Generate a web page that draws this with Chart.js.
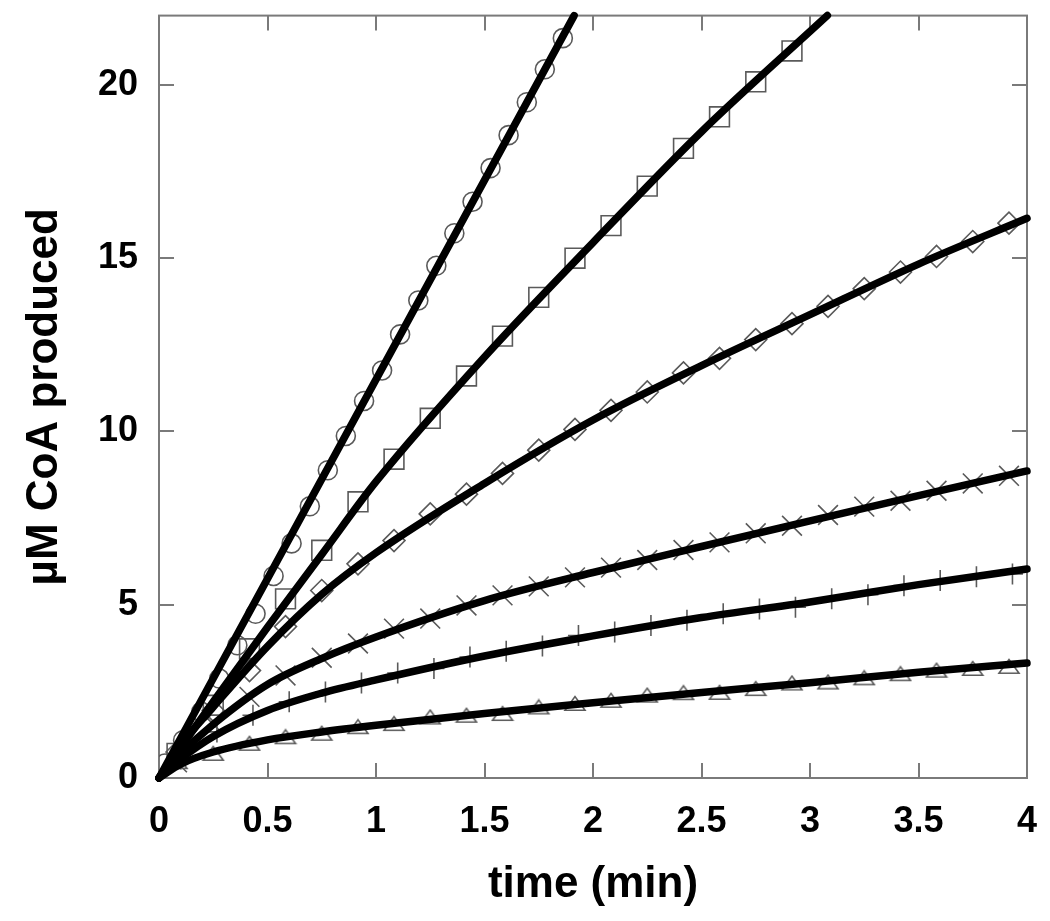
<!DOCTYPE html>
<html><head><meta charset="utf-8">
<script src="https://cdn.jsdelivr.net/npm/chart.js@4.4.1/dist/chart.umd.min.js"></script>
<style>html,body{margin:0;padding:0;background:#fff;}canvas{display:block;}</style>
</head><body>
<canvas id="c" width="1050" height="921"></canvas>
<script>
// ---- tick labels ----
const xTickValues = [0, 0.5, 1, 1.5, 2, 2.5, 3, 3.5, 4];
const yTickValues = [0, 5, 10, 15, 20];
const xTitle = 'time (min)';
const yTitle = 'µM CoA produced';

// ---- measured points (time in min, µM CoA) ----
const circleT = [0.028,0.111,0.195,0.278,0.361,0.445,0.528,0.611,0.695,0.778,0.861,0.945,1.028,1.111,1.195,1.278,1.361,1.445,1.528,1.611,1.695,1.778,1.861];
const circleY = [0.42,1.09,1.91,2.87,3.83,4.74,5.83,6.77,7.84,8.88,9.87,10.88,11.76,12.80,13.78,14.78,15.72,16.63,17.60,18.55,19.50,20.45,21.35];

const squareT = [0.083,0.25,0.417,0.583,0.75,0.917,1.083,1.25,1.417,1.583,1.75,1.917,2.083,2.25,2.417,2.583,2.75,2.917];
const squareY = [0.71,2.10,3.73,5.17,6.57,7.97,9.20,10.38,11.60,12.75,13.87,15.00,15.94,17.08,18.17,19.08,20.09,20.98];

const diamondT = [0.083,0.25,0.417,0.583,0.75,0.917,1.083,1.25,1.417,1.583,1.75,1.917,2.083,2.25,2.417,2.583,2.75,2.917,3.083,3.25,3.417,3.583,3.75,3.917];
const diamondY = [0.75,1.95,3.10,4.37,5.41,6.18,6.85,7.62,8.19,8.79,9.46,10.06,10.61,11.14,11.69,12.11,12.65,13.11,13.61,14.12,14.60,15.05,15.48,16.01];

const crossT = [0.083,0.25,0.417,0.583,0.75,0.917,1.083,1.25,1.417,1.583,1.75,1.917,2.083,2.25,2.417,2.583,2.75,2.917,3.083,3.25,3.417,3.583,3.75,3.917];
const crossY = [0.45,1.55,2.34,2.96,3.47,3.88,4.31,4.60,4.98,5.27,5.53,5.79,6.07,6.29,6.58,6.80,7.06,7.28,7.59,7.83,8.00,8.29,8.50,8.72];

const plusT = [0.1,0.267,0.433,0.6,0.767,0.933,1.1,1.267,1.433,1.6,1.767,1.933,2.1,2.267,2.433,2.6,2.767,2.933,3.1,3.267,3.433,3.6,3.767,3.933];
const plusY = [0.55,1.33,1.81,2.20,2.48,2.74,3.03,3.16,3.49,3.66,3.81,4.11,4.21,4.40,4.55,4.74,4.88,4.93,5.17,5.29,5.55,5.70,5.81,5.89];

const triT = [0.083,0.25,0.417,0.583,0.75,0.917,1.083,1.25,1.417,1.583,1.75,1.917,2.083,2.25,2.417,2.583,2.75,2.917,3.083,3.25,3.417,3.583,3.75,3.917];
const triY = [0.47,0.71,1.00,1.19,1.29,1.48,1.57,1.76,1.81,1.86,2.05,2.15,2.24,2.39,2.46,2.47,2.58,2.74,2.77,2.89,3.01,3.11,3.16,3.22];

// ---- fitted curves ----
const fitCircleT = [0, 1.913];
const fitCircleY = [0, 22];
const fitSquareT = [0, 0.25, 0.5, 0.75, 1, 1.5, 2, 2.5, 3.08];
const fitSquareY = [0, 2.2, 4.35, 6.45, 8.55, 12.15, 15.45, 18.65, 22];
const fitDiamondT = [0, 0.1, 0.25, 0.5, 0.75, 1, 1.5, 2, 2.5, 3, 3.5, 4];
const fitDiamondY = [0, 0.95, 2.05, 3.8, 5.3, 6.5, 8.5, 10.33, 11.9, 13.37, 14.83, 16.15];
const fitCrossT = [0, 0.1, 0.25, 0.5, 0.75, 1, 1.5, 2, 2.5, 3, 3.5, 4];
const fitCrossY = [0, 0.7, 1.55, 2.7, 3.45, 4.07, 5.12, 5.93, 6.68, 7.42, 8.15, 8.86];
const fitPlusT = [0, 0.1, 0.25, 0.5, 0.75, 1, 1.5, 2, 2.5, 3, 3.5, 4];
const fitPlusY = [0, 0.55, 1.2, 1.95, 2.45, 2.83, 3.52, 4.1, 4.63, 5.08, 5.58, 6.03];
const fitTriT = [0, 0.1, 0.25, 0.5, 0.75, 1, 1.5, 2, 2.5, 3, 3.5, 4];
const fitTriY = [0, 0.4, 0.75, 1.1, 1.33, 1.52, 1.86, 2.17, 2.47, 2.75, 3.05, 3.32];

const pts = (t, y) => t.map((x, i) => ({x: x, y: y[i]}));
const MARK = '#5a5a5a';

// flat open triangle marker (wider than tall, as in the original)
const triMarker = document.createElement('canvas');
triMarker.width = 24; triMarker.height = 17;
(function () {
  const g = triMarker.getContext('2d');
  g.strokeStyle = MARK; g.lineWidth = 1.6; g.lineJoin = 'miter';
  g.beginPath(); g.moveTo(2, 15.2); g.lineTo(22, 15.2); g.lineTo(12, 1.5); g.closePath(); g.stroke();
})();

function markers(t, y, style, r) {
  return {type: 'scatter', data: pts(t, y), showLine: false, order: 2,
    pointStyle: style, pointRadius: r, pointHoverRadius: r,
    pointBorderColor: MARK, pointBackgroundColor: 'rgba(0,0,0,0)', pointBorderWidth: 1.6};
}
function fit(t, y) {
  return {type: 'line', data: pts(t, y), order: 1, borderColor: '#000', borderWidth: 7.5,
    borderCapStyle: 'round', borderJoinStyle: 'round', pointRadius: 0, fill: false,
    cubicInterpolationMode: 'monotone', clip: false};
}

const FRAME = '#7a7a7a';
const framePlugin = {
  id: 'frame',
  beforeDatasetsDraw(chart) {
    const {ctx, chartArea: a, scales: {x, y}} = chart;
    ctx.save();
    ctx.strokeStyle = FRAME; ctx.lineWidth = 2;
    ctx.strokeRect(a.left, a.top, a.right - a.left, a.bottom - a.top);
    const L = 15;
    ctx.beginPath();
    xTickValues.forEach(v => {
      if (v === x.min || v === x.max) return;
      const px = Math.round(x.getPixelForValue(v));
      ctx.moveTo(px, a.bottom); ctx.lineTo(px, a.bottom - L);
      ctx.moveTo(px, a.top); ctx.lineTo(px, a.top + L);
    });
    yTickValues.forEach(v => {
      if (v === y.min || v === y.max) return;
      const py = Math.round(y.getPixelForValue(v));
      ctx.moveTo(a.left, py); ctx.lineTo(a.left + L, py);
      ctx.moveTo(a.right, py); ctx.lineTo(a.right - L, py);
    });
    ctx.stroke();
    ctx.restore();
  }
};

const FONT = "'Liberation Sans', Arial, Helvetica, sans-serif";
new Chart(document.getElementById('c'), {
  data: {datasets: [
    markers(circleT, circleY, 'circle', 9.5),
    markers(squareT, squareY, 'rect', 14),
    markers(diamondT, diamondY, 'rectRot', 11),
    markers(crossT, crossY, 'crossRot', 14),
    markers(plusT, plusY, 'cross', 10.5),
    markers(triT, triY, triMarker, 11),
    fit(fitCircleT, fitCircleY),
    fit(fitSquareT, fitSquareY),
    fit(fitDiamondT, fitDiamondY),
    fit(fitCrossT, fitCrossY),
    fit(fitPlusT, fitPlusY),
    fit(fitTriT, fitTriY)
  ]},
  options: {
    responsive: false, animation: false, devicePixelRatio: 1,
    layout: {padding: {top: 13, right: 23, left: 0, bottom: 0}},
    plugins: {legend: {display: false}, tooltip: {enabled: false}},
    scales: {
      x: {type: 'linear', min: 0, max: 4,
        afterBuildTicks: s => { s.ticks = xTickValues.map(v => ({value: v})); },
        afterFit: s => { s.height = 143; s.paddingLeft = 0; s.paddingRight = 0; },
        grid: {display: false, drawTicks: false}, border: {display: false},
        ticks: {color: '#000', padding: 22, maxRotation: 0, autoSkip: false,
          font: {family: FONT, weight: 'bold', size: 36}, callback: v => String(v)},
        title: {display: true, text: xTitle, color: '#000', padding: {top: 0, bottom: 10},
          font: {family: FONT, weight: 'bold', size: 44}}
      },
      y: {type: 'linear', min: 0, max: 22,
        afterBuildTicks: s => { s.ticks = yTickValues.map(v => ({value: v})); },
        afterFit: s => { s.width = 159; s.paddingTop = 0; s.paddingBottom = 0; },
        grid: {display: false, drawTicks: false}, border: {display: false},
        ticks: {color: '#000', padding: 21, autoSkip: false,
          font: {family: FONT, weight: 'bold', size: 36}, callback: v => String(v)},
        title: {display: true, text: yTitle, color: '#000', padding: {top: 18, bottom: 0},
          font: {family: FONT, weight: 'bold', size: 44}}
      }
    }
  },
  plugins: [framePlugin]
});
</script>
</body></html>
